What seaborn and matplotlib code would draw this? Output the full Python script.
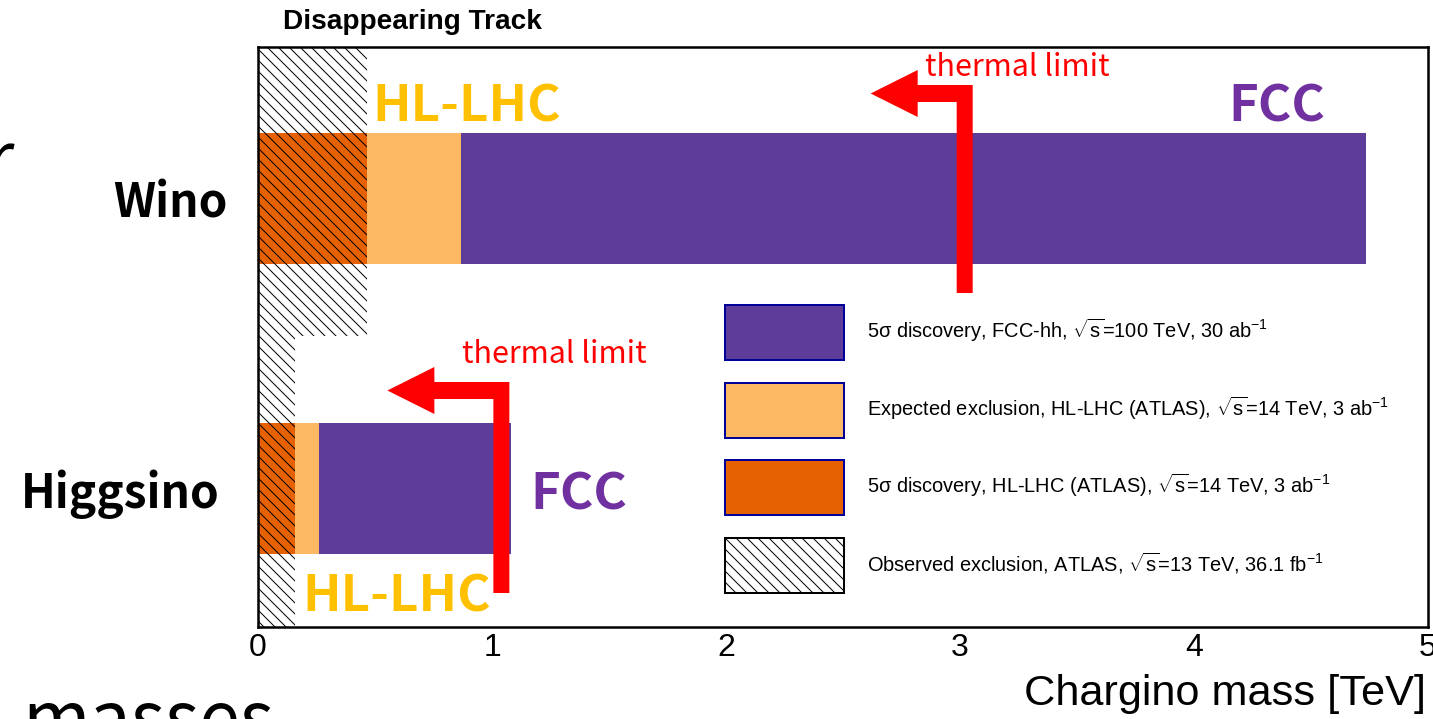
import matplotlib
matplotlib.use("Agg")
import matplotlib.pyplot as plt
import numpy as np
import pandas as pd
import seaborn as sns
from matplotlib.patches import Patch, Polygon
from matplotlib.transforms import IdentityTransform, ScaledTranslation

# Chargino mass reach [TeV] of disappearing-track searches
particles = ["Wino", "Higgsino"]
fcc_discovery = [4.735, 1.081]      # 5 sigma discovery, FCC-hh 100 TeV
hllhc_exclusion = [0.868, 0.261]    # expected exclusion, HL-LHC
hllhc_discovery = [0.466, 0.158]    # 5 sigma discovery, HL-LHC
atlas_observed = [0.466, 0.158]     # observed exclusion, ATLAS 13 TeV
thermal_limit = [3.02, 1.04]        # thermal dark-matter mass
x_ticks = [0, 1, 2, 3, 4, 5]

legend_labels = [
    r"5σ discovery, FCC-hh, $\sqrt{\mathrm{s}}$=100 TeV, 30 ab$^{-1}$",
    r"Expected exclusion, HL-LHC (ATLAS), $\sqrt{\mathrm{s}}$=14 TeV, 3 ab$^{-1}$",
    r"5σ discovery, HL-LHC (ATLAS), $\sqrt{\mathrm{s}}$=14 TeV, 3 ab$^{-1}$",
    r"Observed exclusion, ATLAS, $\sqrt{\mathrm{s}}$=13 TeV, 36.1 fb$^{-1}$",
]

PURPLE, LIGHT, DARK = "#5e3c99", "#fdb863", "#e66101"
GOLD, FCC_TXT, RED = "#ffc000", "#7030a0", "#ff0000"
EDGE = "#000099"
HATCH = "\\\\"

W, H, DPI = 1433, 719, 66


def pt(px):
    """pixels -> points at the output resolution"""
    return px * 72.0 / DPI


def fx(px):
    return px / W


def fy(py):
    return 1.0 - py / H


sns.set_theme(style="white")
plt.rcParams["font.family"] = ["Liberation Sans", "DejaVu Sans"]
plt.rcParams["text.color"] = "black"
plt.rcParams["mathtext.fontset"] = "custom"
plt.rcParams["mathtext.rm"] = "Liberation Sans"
plt.rcParams["mathtext.it"] = "Liberation Sans:italic"
plt.rcParams["mathtext.sf"] = "Liberation Sans"
plt.rcParams["hatch.linewidth"] = pt(1.0)
plt.rcParams["hatch.color"] = "black"

JP = ["Noto Sans CJK JP", "DejaVu Sans"]

df = pd.DataFrame({
    "particle": particles,
    "fcc": fcc_discovery,
    "excl": hllhc_exclusion,
    "disc": hllhc_discovery,
})

fig = plt.figure(figsize=(W / DPI, H / DPI), dpi=DPI)
ax = fig.add_axes([fx(258), (H - 627) / H, 1170 / W, 580 / H])

# stacked reach bars, widest first
for col, color in [("fcc", PURPLE), ("excl", LIGHT), ("disc", DARK)]:
    sns.barplot(data=df, x=col, y="particle", orient="h", color=color,
                saturation=1, width=0.452, linewidth=0, errorbar=None, ax=ax)

y_top, y_bot, split = -0.522, 1.478, 0.474
ax.set_ylim(y_bot, y_top)
ax.set_xlim(0, 5)

# hatched observed exclusion bands
for (y0, y1), reach in zip([(y_top, split), (split, y_bot)], atlas_observed):
    ax.fill_betweenx([y0, y1], 0, reach, facecolor="none", edgecolor="black",
                     hatch=HATCH, linewidth=0, zorder=3)

ax.set_xticks(x_ticks)
ax.set_xticklabels([str(t) for t in x_ticks])
ax.set_yticks([0, 1])
ax.set_yticklabels(particles, fontfamily=JP, fontweight="bold", fontsize=pt(46))
ax.tick_params(axis="x", direction="in", length=pt(20), width=pt(2),
               labelsize=pt(32), pad=pt(6), colors="black")
ax.tick_params(axis="y", length=0, pad=pt(30), colors="black")
for lbl in ax.get_yticklabels():
    if lbl.get_text() == "Higgsino":
        lbl.set_transform(lbl.get_transform()
                          + ScaledTranslation(-8 / DPI, 0, fig.dpi_scale_trans))
for side in ["top", "bottom", "left", "right"]:
    ax.spines[side].set_visible(True)
    ax.spines[side].set_color("black")
    ax.spines[side].set_linewidth(pt(2.5))
ax.set_xlabel("")
ax.set_ylabel("")

fig.text(fx(1426), fy(705), "Chargino mass [TeV]", ha="right", va="baseline",
         fontsize=pt(43.3), color="black")
fig.text(fx(283), fy(29), "Disappearing Track", ha="left", va="baseline",
         fontsize=pt(28), fontweight="bold", color="black")

# legend
handles = [
    Patch(facecolor=PURPLE, edgecolor=EDGE, linewidth=pt(2)),
    Patch(facecolor=LIGHT, edgecolor=EDGE, linewidth=pt(2)),
    Patch(facecolor=DARK, edgecolor=EDGE, linewidth=pt(2)),
    Patch(facecolor="white", edgecolor="black", hatch=HATCH, linewidth=pt(2)),
]
fs = 20.0
box_h = 55.0
hh = (box_h / fs - 0.245) / 0.65
ax.legend(handles, legend_labels, loc="upper left",
          bbox_to_anchor=(fx(725), fy(305)), bbox_transform=fig.transFigure,
          frameon=False, fontsize=pt(fs), handlelength=119 / fs,
          handleheight=hh, handletextpad=(867 - 844) / fs,
          labelspacing=(77.7 - box_h) / fs, borderpad=0, borderaxespad=0,
          labelcolor="black")

# scenario labels
for x, y, s, c in [(372, 121, "HL-LHC", GOLD), (302, 611, "HL-LHC", GOLD),
                   (1228, 121, "FCC", FCC_TXT), (530, 510, "FCC", FCC_TXT)]:
    fig.text(fx(x), fy(y), s, color=c, fontfamily=JP, fontweight="bold",
             fontsize=pt(51), ha="left", va="baseline")


# thermal-limit arrows: vertical stem at the limit, pointing to lower masses
def thermal_arrow(x_tev, top_px, stem_px, reach_px):
    x0 = ax.transData.transform((x_tev, 0))[0]
    y0 = H - top_px
    half, bar, head_up, head_dn, head_len = 8, 17, 15, 32, 47
    verts = np.array([
        (half, 0), (half, -stem_px), (-half, -stem_px), (-half, -bar),
        (-reach_px, -bar), (-reach_px, -head_dn),
        (-reach_px - head_len, -(bar / 2)),
        (-reach_px, head_up), (-reach_px, 0),
    ], dtype=float) + (x0, y0)
    fig.add_artist(Polygon(verts, closed=True, facecolor=RED, edgecolor="none",
                           transform=IdentityTransform(), zorder=5))


thermal_arrow(thermal_limit[0], 85, 208, 47)
thermal_arrow(thermal_limit[1], 382, 211, 67)
fig.text(fx(925), fy(76), "thermal limit", color=RED, fontfamily=JP,
         fontsize=pt(30.5), ha="left", va="baseline")
fig.text(fx(462), fy(363), "thermal limit", color=RED, fontfamily=JP,
         fontsize=pt(30.5), ha="left", va="baseline")

# slide text running past the figure edges
fig.text(fx(14), fy(184), "r", color="black", fontfamily=JP,
         fontsize=pt(73), ha="right", va="baseline")
fig.text(fx(22), fy(744), "masses", color="black", fontfamily=JP,
         fontsize=pt(73), ha="left", va="baseline")

fig.savefig("out.png", dpi=DPI, facecolor="white")
